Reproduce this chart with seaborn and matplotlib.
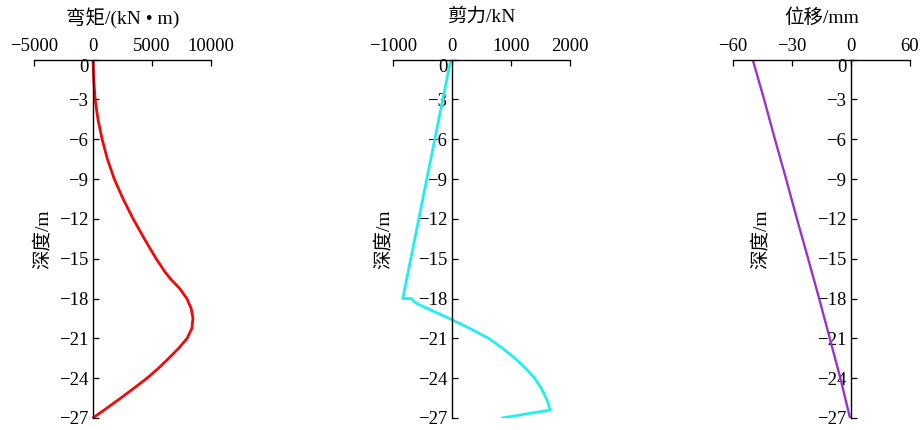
import numpy as np
import pandas as pd
import matplotlib
matplotlib.use('Agg')
import matplotlib.pyplot as plt
import seaborn as sns


# Values (depth in m)
moment_depth = [0, -1.5, -3, -4.5, -6, -7.5, -9, -10.5, -12, -13.5, -15, -16,
                -16.5, -17.25, -18, -18.75, -19.5, -20.25, -21, -21.75, -22.5,
                -23.25, -24, -24.75, -25.5, -26.25, -27]
moment = [0, 60, 180, 420, 770, 1220, 1800, 2550, 3400, 4350, 5350, 6100,
          6550, 7350, 7950, 8320, 8470, 8380, 7970, 7260, 6420, 5550, 4580,
          3480, 2350, 1180, 0]

shear_depth = [0, -9, -18, -18, -18.2, -18.4, -19.6, -20.25,
               -21, -21.75, -22.5, -23.25, -24, -24.75, -25.5, -25.9, -26.4, -27]
shear = [-20, -427, -834, -690, -650, -590, 0, 300,
         622, 856, 1067, 1245, 1400, 1511, 1595, 1630, 1662, 845]

disp_depth = [0, -3, -6, -9, -12, -15, -18, -21, -24, -27]
disp = [-50, -44.2, -38.7, -33.0, -27.5, -21.8, -16.2, -10.8, -5.4, -0.5]

depth_ticks = list(range(0, -28, -3))

sns.set_theme(style='white')
plt.rcParams['font.family'] = ['Liberation Serif', 'Noto Sans CJK SC']
plt.rcParams['axes.unicode_minus'] = True

fig = plt.figure(figsize=(9.22, 4.30), dpi=100)

W, H = 922.0, 430.0
ax_bottom = 1 - 418 / H
ax_height = (418 - 59.5) / H


def make_panel(left_px, x, y, color, lw, xlim, xticks, xlabels, title, label_x):
    ax = fig.add_axes([left_px / W, ax_bottom, 177 / W, ax_height])
    sns.lineplot(x=x, y=y, sort=False, estimator=None, color=color,
                 linewidth=lw, ax=ax)
    ax.set_xlim(xlim)
    ax.set_ylim(-27, 0)
    ax.xaxis.tick_top()
    ax.set_xticks(xticks)
    ax.set_xticklabels(xlabels)
    ax.set_yticks(depth_ticks)
    ax.set_yticklabels([str(t).replace('-', '\u2212') for t in depth_ticks])
    ax.spines['left'].set_position(('data', 0))
    ax.spines['right'].set_visible(False)
    ax.spines['bottom'].set_visible(False)
    for s in ['left', 'top']:
        ax.spines[s].set_color('black')
        ax.spines[s].set_linewidth(1.0)
    ax.tick_params(axis='both', direction='in', length=4.5, width=0.9,
                   color='black', labelsize=13.5, pad=3.5, labelcolor='black')
    ax.tick_params(axis='x', top=True, bottom=False, labeltop=True, labelbottom=False)
    ax.tick_params(axis='y', left=True, right=False)
    # the "0" depth label sits below the top axis line
    zero_lab = ax.yaxis.get_major_ticks()[0].label1
    zero_lab.set_verticalalignment('top')
    ax.set_xlabel('')
    ax.set_ylabel('深度/m', fontsize=14, color='black')
    ax.yaxis.set_label_coords(label_x, 0.5)
    ax.text(0.5, 1.118, title, transform=ax.transAxes, ha='center', va='center',
            fontsize=14, color='black')
    ax.grid(False)
    return ax


make_panel(34, moment, moment_depth, '#f00a0a', 2.0,
           (-5000, 10000), [-5000, 0, 5000, 10000],
           ['\u22125000', '0', '5000', '10000'], '弯矩/(kN • m)', 0.10)

make_panel(393, shear, shear_depth, '#22eeee', 2.0,
           (-1000, 2000), [-1000, 0, 1000, 2000],
           ['\u22121000', '0', '1000', '2000'], '剪力/kN', 0.0)

# the right-most tick of the reference is labelled 60 although it sits one step (30) from 0
make_panel(733, disp, disp_depth, '#9933cc', 1.7,
           (-60, 30), [-60, -30, 0, 30],
           ['\u221260', '\u221230', '0', '60'], '位移/mm', 0.21)

fig.savefig('out.png', dpi=100)
